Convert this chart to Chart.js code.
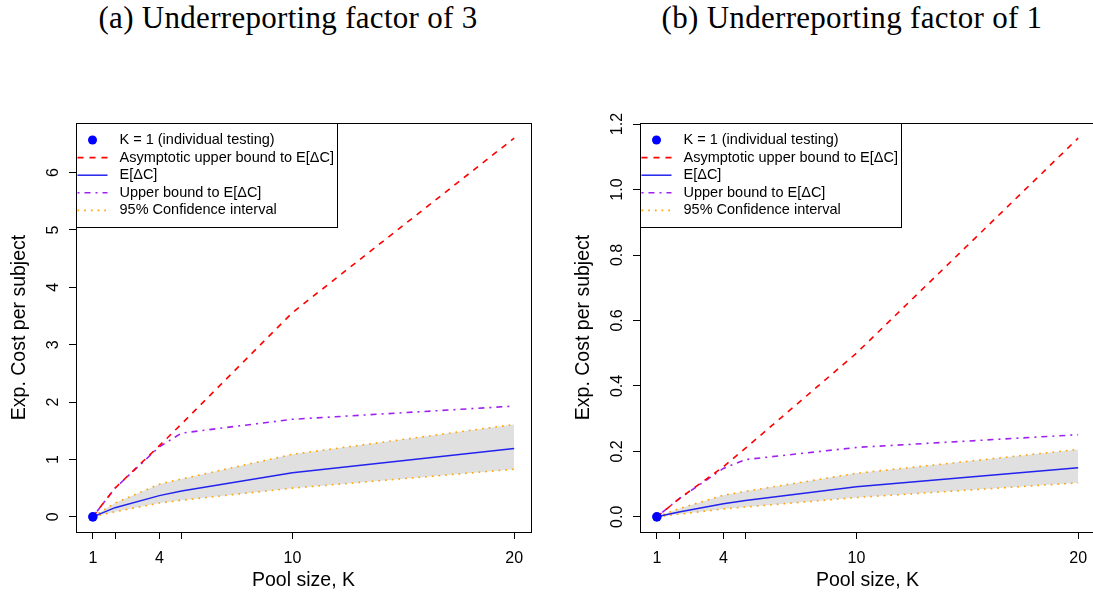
<!DOCTYPE html>
<html>
<head>
<meta charset="utf-8">
<script src="https://cdn.jsdelivr.net/npm/chart.js@4.4.0/dist/chart.umd.min.js"></script>
<style>
  html, body { margin: 0; padding: 0; background: #fff; overflow: hidden; width: 1093px; height: 596px; }
  .panel { position: absolute; top: 0; width: 546px; height: 596px; }
  .cap { position: absolute; top: 0; font-family: "Liberation Serif", serif; font-size: 31px; letter-spacing: 0.3px;
         color: #000; white-space: nowrap; transform: translateX(-50%); }
</style>
</head>
<body>
<div class="cap" style="left:288px">(a) Underreporting factor of 3</div>
<div class="cap" style="left:852px">(b) Underreporting factor of 1</div>
<div class="panel" style="left:0"><canvas id="chartA" width="546" height="596"></canvas></div>
<div class="panel" style="left:564px"><canvas id="chartB" width="546" height="596"></canvas></div>
<script>
/* Expected cost per subject vs pool size, two underreporting factors */

// pool sizes and x-axis ticks
var POOL = [1, 2, 4, 5, 10, 20];
var X_TICKS = [1, 2, 4, 5, 10, 20];
var X_LABELS = ['1', '', '4', '', '10', '20'];

// individual testing reference point
var SINGLE_K = [1];
var SINGLE_COST = [0];

// (a) underreporting factor of 3
var A_ASYMP = [0, 0.50, 1.24, 1.62, 3.56, 6.60];
var A_MEAN  = [0, 0.16, 0.37, 0.45, 0.77, 1.19];
var A_UPPER = [0, 0.50, 1.22, 1.46, 1.70, 1.93];
var A_CI_HI = [0, 0.24, 0.57, 0.66, 1.09, 1.61];
var A_CI_LO = [0, 0.09, 0.24, 0.29, 0.50, 0.83];
var A_Y_TICKS = [0, 1, 2, 3, 4, 5, 6];

// (b) underreporting factor of 1
var B_ASYMP = [0, 0.055, 0.153, 0.21, 0.50, 1.157];
var B_MEAN  = [0, 0.015, 0.040, 0.050, 0.092, 0.150];
var B_UPPER = [0, 0.055, 0.148, 0.175, 0.212, 0.251];
var B_CI_HI = [0, 0.025, 0.066, 0.078, 0.133, 0.206];
var B_CI_LO = [0, 0.008, 0.024, 0.030, 0.059, 0.104];
var B_Y_TICKS = [0, 0.2, 0.4, 0.6, 0.8, 1.0, 1.2];

var FONT = '"Liberation Sans", Arial, Helvetica, sans-serif';
Chart.defaults.font.family = FONT;
Chart.defaults.color = '#000';

function pts(xs, ys) {
  return xs.map(function (x, i) { return { x: x, y: ys[i] }; });
}

// R-style frame plus boxed legend in the top-left corner
var boxLegend = {
  id: 'boxLegend',
  afterDraw: function (chart) {
    var ctx = chart.ctx, a = chart.chartArea;
    var L = Math.round(a.left) + 0.5, T = Math.round(a.top) + 0.5;
    ctx.save();
    ctx.strokeStyle = '#000';
    ctx.lineWidth = 1;
    ctx.strokeRect(L, T, Math.round(a.right - a.left), Math.round(a.bottom - a.top));

    var w = 261, h = 104;
    ctx.fillStyle = '#fff';
    ctx.fillRect(L, T, w, h);
    ctx.strokeRect(L, T, w, h);
    ctx.font = '14.5px ' + FONT;
    ctx.textBaseline = 'middle';
    chart.data.datasets.forEach(function (ds, i) {
      if (ds.noLegend) return;
      var y = T + 16.5 + i * 17.6;
      if (ds.showLine === false) {
        ctx.fillStyle = ds.pointBackgroundColor;
        ctx.beginPath();
        ctx.arc(L + 16, y, 4.5, 0, Math.PI * 2);
        ctx.fill();
      } else {
        ctx.setLineDash(ds.borderDash || []);
        ctx.strokeStyle = ds.borderColor;
        ctx.lineWidth = ds.borderWidth;
        ctx.beginPath();
        ctx.moveTo(L + 1, y);
        ctx.lineTo(L + 31, y);
        ctx.stroke();
        ctx.setLineDash([]);
      }
      ctx.fillStyle = '#000';
      ctx.fillText(ds.label, L + 43, y);
    });
    ctx.restore();
  }
};

function makePanel(id, s, yTicks, yMin, yMax, yFmt, yPad) {
  var lineBase = { showLine: true, pointRadius: 0, tension: 0, fill: false };
  var datasets = [
    { label: 'K = 1 (individual testing)', data: pts(SINGLE_K, SINGLE_COST), showLine: false,
      pointRadius: 4.8, pointBackgroundColor: '#0000ff', pointBorderWidth: 0 },
    Object.assign({ label: 'Asymptotic upper bound to E[\u0394C]', data: pts(POOL, s.asymp),
      borderColor: '#ff0000', borderWidth: 1.6, borderDash: [6, 6] }, lineBase),
    Object.assign({ label: 'E[\u0394C]', data: pts(POOL, s.mean),
      borderColor: '#2222ee', borderWidth: 1.5 }, lineBase),
    Object.assign({ label: 'Upper bound to E[\u0394C]', data: pts(POOL, s.upper),
      borderColor: '#a020f0', borderWidth: 1.6, borderDash: [2, 5, 6, 5] }, lineBase),
    Object.assign({ label: '95% Confidence interval', data: pts(POOL, s.hi),
      borderColor: '#ffa500', borderWidth: 1.6, borderDash: [1.7, 5] }, lineBase,
      { fill: '+1', backgroundColor: '#e0e0e0' }),
    Object.assign({ label: 'CI lower', data: pts(POOL, s.lo), noLegend: true,
      borderColor: '#ffa500', borderWidth: 1.6, borderDash: [1.7, 5] }, lineBase)
  ];

  return new Chart(document.getElementById(id), {
    type: 'scatter',
    data: { datasets: datasets },
    plugins: [boxLegend],
    options: {
      responsive: false, animation: false, devicePixelRatio: 1,
      layout: { padding: { top: 123, right: 15, bottom: 0, left: 0 } },
      plugins: {
        legend: { display: false }, tooltip: { enabled: false },
        filler: { drawTime: 'beforeDatasetsDraw' }
      },
      scales: {
        x: {
          type: 'linear', min: 0.24, max: 20.76,
          afterBuildTicks: function (sc) { sc.ticks = X_TICKS.map(function (v) { return { value: v }; }); },
          afterFit: function (sc) { sc.height = 64; },
          ticks: { autoSkip: false, minRotation: 0, maxRotation: 0, padding: 10, font: { size: 16 },
                   callback: function (v, i) { return X_LABELS[i]; } },
          grid: { drawOnChartArea: false, drawTicks: true, tickLength: 7, color: '#000' },
          border: { display: false },
          title: { display: true, text: 'Pool size, K', font: { size: 19.5 }, padding: { top: 0, bottom: 4 } }
        },
        y: {
          type: 'linear', min: yMin, max: yMax,
          afterBuildTicks: function (sc) { sc.ticks = yTicks.map(function (v) { return { value: v }; }); },
          afterFit: function (sc) { sc.width = 76; },
          ticks: { autoSkip: false, minRotation: 90, maxRotation: 90, crossAlign: 'center', padding: yPad,
                   font: { size: 16 }, callback: yFmt },
          grid: { drawOnChartArea: false, drawTicks: true, tickLength: 7, color: '#000' },
          border: { display: false },
          title: { display: true, text: 'Exp. Cost per subject', font: { size: 19.5 }, padding: { top: 8, bottom: 0 } }
        }
      }
    }
  });
}

makePanel('chartA',
  { asymp: A_ASYMP, mean: A_MEAN, upper: A_UPPER, hi: A_CI_HI, lo: A_CI_LO },
  A_Y_TICKS, -0.264, 6.864, function (v) { return String(v); }, 11);

makePanel('chartB',
  { asymp: B_ASYMP, mean: B_MEAN, upper: B_UPPER, hi: B_CI_HI, lo: B_CI_LO },
  B_Y_TICKS, -0.0463, 1.2033, function (v) { return v.toFixed(1); }, 4);
</script>
</body>
</html>
